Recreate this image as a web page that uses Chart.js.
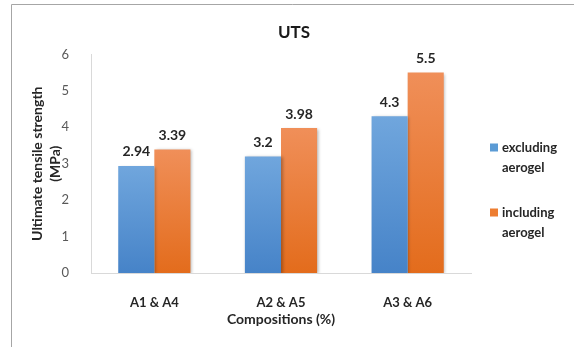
<!DOCTYPE html>
<html>
<head>
<meta charset="utf-8">
<script src="https://cdn.jsdelivr.net/npm/chart.js@4.4.1/dist/chart.umd.min.js"></script>
<style>
  html, body { margin: 0; padding: 0; background: #ffffff; }
  #wrap { width: 574px; height: 347px; position: relative; }
</style>
</head>
<body>
<div id="wrap"><canvas id="uts" width="574" height="347"></canvas></div>
<script>
// Ultimate tensile strength per composition pair (MPa)
const categories = ['A1 & A4', 'A2 & A5', 'A3 & A6'];
const excludingAerogel = [2.94, 3.2, 4.3];
const includingAerogel = [3.39, 3.98, 5.5];
const seriesLabels = [['excluding', 'aerogel'], ['including', 'aerogel']];
const yTickValues = [0, 1, 2, 3, 4, 5, 6];

const FONT = 'Lato, "Open Sans", "Liberation Sans", sans-serif';

// Vertical gradient spanning each bar from its top to the zero line
function barGradient(topColor, bottomColor) {
  return (ctx) => {
    const chart = ctx.chart;
    if (!chart.chartArea || ctx.dataIndex === undefined) return bottomColor;
    const ys = chart.scales.y;
    const yTop = ys.getPixelForValue(ctx.dataset.data[ctx.dataIndex]);
    const yBase = ys.getPixelForValue(0);
    const g = chart.ctx.createLinearGradient(0, yTop, 0, yBase);
    g.addColorStop(0, topColor);
    g.addColorStop(1, bottomColor);
    return g;
  };
}

const swatches = ['#5b9bd5', '#ed7d31'];

// Outer frame line along the top and left edges
const framePlugin = {
  id: 'frame',
  beforeDraw(chart) {
    const c = chart.ctx;
    c.save();
    c.strokeStyle = '#a6a6a6';
    c.lineWidth = 1;
    c.beginPath();
    c.moveTo(11.5, chart.height);
    c.lineTo(11.5, 4.5);
    c.lineTo(chart.width, 4.5);
    c.stroke();
    c.restore();
  }
};

// Soft drop shadow behind the bars
const shadowPlugin = {
  id: 'barShadow',
  beforeDatasetsDraw(chart) {
    const c = chart.ctx;
    c.save();
    c.shadowColor = 'rgba(0,0,0,0.28)';
    c.shadowBlur = 3;
    c.shadowOffsetX = 1.5;
    c.shadowOffsetY = 1;
  },
  afterDatasetsDraw(chart) {
    chart.ctx.restore();
  }
};

// Value labels above each bar
const valueLabelPlugin = {
  id: 'valueLabels',
  afterDatasetsDraw(chart) {
    const c = chart.ctx;
    c.save();
    c.font = 'bold 14px ' + FONT;
    c.fillStyle = '#262626';
    c.textAlign = 'center';
    c.textBaseline = 'middle';
    chart.data.datasets.forEach((ds, i) => {
      const meta = chart.getDatasetMeta(i);
      meta.data.forEach((bar, j) => {
        c.fillText(String(ds.data[j]), bar.x, bar.y - 14);
      });
    });
    c.restore();
  }
};

// Legend on the right with two-line series names
const sideLegendPlugin = {
  id: 'sideLegend',
  afterDraw(chart) {
    const c = chart.ctx;
    const x = chart.chartArea.right + 19;
    const rows = [147.5, 212.5];
    c.save();
    c.font = 'bold 13px ' + FONT;
    c.textAlign = 'left';
    c.textBaseline = 'middle';
    chart.data.datasets.forEach((ds, i) => {
      const y = rows[i];
      c.fillStyle = swatches[i];
      c.fillRect(x, y - 4, 8, 8);
      c.fillStyle = '#262626';
      seriesLabels[i].forEach((line, k) => {
        c.fillText(line, x + 12, y + k * 20);
      });
    });
    c.restore();
  }
};

new Chart(document.getElementById('uts'), {
  type: 'bar',
  data: {
    labels: categories,
    datasets: [
      {
        label: seriesLabels[0].join(' '),
        data: excludingAerogel,
        backgroundColor: barGradient('#70a6dd', '#4683c8'),
        categoryPercentage: 0.57,
        barPercentage: 1.0
      },
      {
        label: seriesLabels[1].join(' '),
        data: includingAerogel,
        backgroundColor: barGradient('#f08f59', '#e36c1c'),
        categoryPercentage: 0.57,
        barPercentage: 1.0
      }
    ]
  },
  options: {
    responsive: false,
    animation: false,
    devicePixelRatio: 1,
    layout: { padding: { left: 14, right: 0, top: 0, bottom: 0 } },
    plugins: {
      legend: { display: false },
      tooltip: { enabled: false },
      title: {
        display: true,
        text: 'UTS',
        color: '#1a1a1a',
        font: { family: FONT, size: 17, weight: 'bold' },
        padding: { top: 22, bottom: 12 }
      }
    },
    scales: {
      x: {
        grid: { display: false },
        border: { display: true, color: '#d9d9d9', width: 1 },
        ticks: {
          color: '#262626',
          font: { family: FONT, size: 13, weight: 'bold' },
          padding: 14
        },
        title: {
          display: true,
          text: 'Compositions (%)',
          color: '#262626',
          font: { family: FONT, size: 14, weight: 'bold', lineHeight: 1.3 },
          padding: { top: 0, bottom: 18 }
        },
        afterFit(scale) { scale.height = 347 - 273; }
      },
      y: {
        min: 0,
        max: 6,
        grid: { display: false },
        border: { display: true, color: '#d9d9d9', width: 1 },
        afterBuildTicks(scale) {
          scale.ticks = yTickValues.map(v => ({ value: v }));
        },
        ticks: {
          color: '#595959',
          font: { family: FONT, size: 13 },
          padding: 14
        },
        title: {
          display: true,
          text: ['Ultimate tensile strength', '(MPa)'],
          color: '#262626',
          font: { family: FONT, size: 14, weight: 'bold', lineHeight: 1.3 },
          padding: { top: 14, bottom: 0 }
        },
        afterFit(scale) { scale.width = 91 - 14; }
      },
      legendSpace: {
        type: 'linear',
        position: 'right',
        display: true,
        grid: { display: false },
        border: { display: false },
        ticks: { display: false },
        afterFit(scale) { scale.width = 103; }
      }
    }
  },
  plugins: [framePlugin, shadowPlugin, valueLabelPlugin, sideLegendPlugin]
});
</script>
</body>
</html>
